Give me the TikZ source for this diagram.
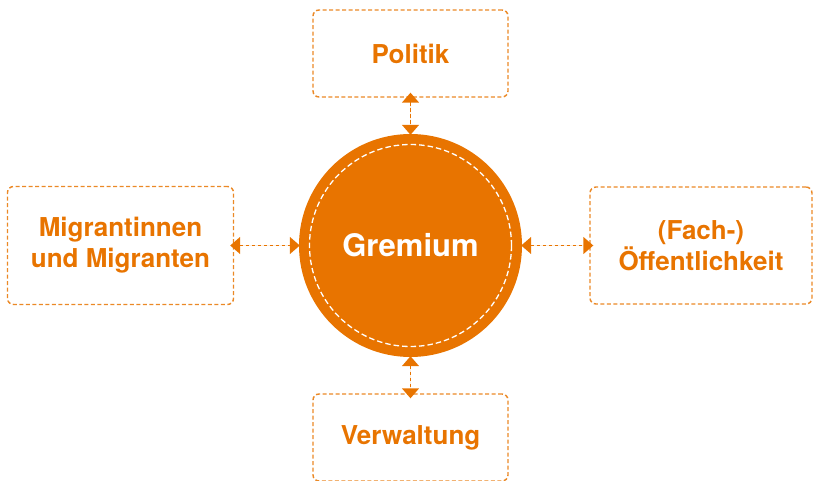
\documentclass[tikz,border=0pt]{standalone}
\usepackage{fontspec}
\setmainfont{TeX Gyre Heros}
\usepackage{xcolor}
\usepackage{tikz}
\usetikzlibrary{arrows.meta}

\definecolor{gorange}{HTML}{E87400}

\begin{document}
\begin{tikzpicture}[
  x=1pt, y=-1pt,
  font=\bfseries\fontsize{26}{31}\selectfont,
  party/.style={draw=gorange!85, dash pattern=on 4pt off 2.5pt, line width=1.4pt,
                rounded corners=6pt, align=center, text=gorange,
                inner sep=0pt},
  hub/.style={circle, fill=gorange, minimum size=223pt, inner sep=0pt,
              text=white, font=\bfseries\fontsize{31}{36}\selectfont},
  link/.style={{Triangle[length=10pt,width=17pt]}-{Triangle[length=10pt,width=17pt]},
               draw=gorange, fill=gorange, line width=1.4pt,
               dash pattern=on 3.5pt off 2.5pt}
]
\useasboundingbox (0,0) rectangle (817,481);
% the board in the middle
\node[hub] (gremium) at (410.5,245.5) {Gremium};
\draw[white, line width=1.3pt, dash pattern=on 5.5pt off 3pt]
  (gremium.center) circle[radius=101pt];
% the four groups round it
\node[party, minimum width=195pt, minimum height=87pt] (politik) at (410.5,53.5) {Politik};
\node[party, minimum width=226pt, minimum height=118pt] (migr) at (120.5,245.5)
  {Migrantinnen\\und Migranten};
\node[party, minimum width=222pt, minimum height=117pt] (oeff) at (701,245.5)
  {(Fach-)\\Öffentlichkeit};
\node[party, minimum width=195pt, minimum height=87pt] (verw) at (410.5,437.5) {Verwaltung};
% exchange with the board
\draw[link, shorten <=-5pt, shorten >=-1pt] (politik.south) -- (gremium.north);
\draw[link, shorten <=-1pt, shorten >=-5pt] (gremium.south) -- (verw.north);
\draw[link, shorten <=-4pt, shorten >=-1pt] (migr.east) -- (gremium.west);
\draw[link, shorten <=-1pt, shorten >=-4pt] (gremium.east) -- (oeff.west);
\end{tikzpicture}
\end{document}
